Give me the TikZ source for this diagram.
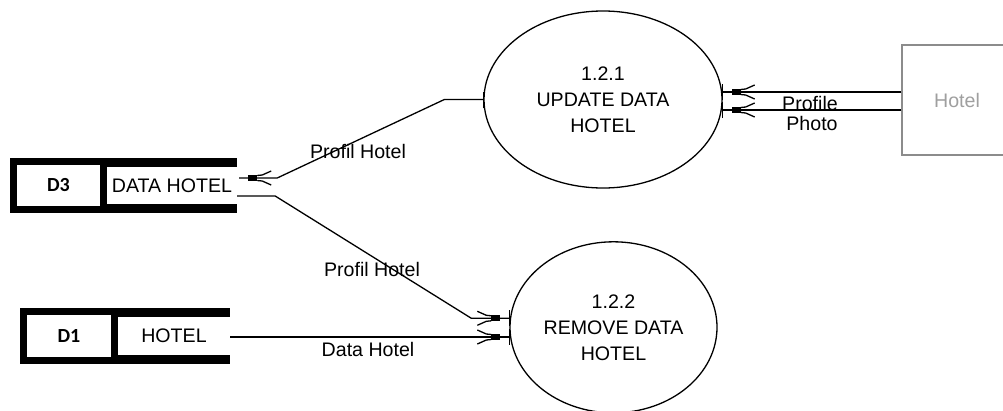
\documentclass[tikz,border=0pt]{standalone}
\usepackage{fontspec}
\setmainfont{Liberation Sans}
\newfontfamily\dfont{Carlito}
\usetikzlibrary{shapes.geometric,decorations.markings,calc}
\tikzset{
  proc/.style={ellipse, draw, line width=1.3pt, inner sep=0pt, align=center, font=\fontsize{19.6}{26}\selectfont},
  dbox/.style={rectangle, draw, line width=7pt, inner sep=0pt, font=\dfont\bfseries\fontsize{20}{22}\selectfont},
  store/.style={rectangle, inner sep=0pt, font=\fontsize{19.6}{22}\selectfont},
  lbl/.style={inner sep=0pt, font=\fontsize{19.6}{22}\selectfont},
  ent/.style={rectangle, draw=gray!90, line width=1.3pt, text=gray!75, inner sep=0pt, font=\fontsize{19.6}{22}\selectfont},
  flow/.style={line width=1.3pt},
  tipend/.style={postaction={decorate, decoration={markings, mark=at position 0.9999 with {
     \fill (-18,-3) rectangle (-9,3);
     \draw[line width=1.3pt] (-18,2.5) -- (-23,3) -- (-32,7) (-18,-2.5) -- (-23,-3) -- (-32,-7);}}}},
  barend/.style={postaction={decorate, decoration={markings, mark=at position 0.9999 with {\draw[line width=1.3pt] (0,-8) -- (0,8);}}}},
  barstart/.style={postaction={decorate, decoration={markings, mark=at position 0 with {\draw[line width=1.3pt] (0,-8) -- (0,8);}}}},
}
\begin{document}
\begin{tikzpicture}[x=1pt,y=-1pt]
\useasboundingbox (0,0) rectangle (1003,410);
% processes
\node[proc, minimum width=238pt, minimum height=177pt] (e1) at (603,99.5) {1.2.1\\UPDATE DATA\\HOTEL};
\node[proc, minimum width=207pt, minimum height=171pt] (e2) at (613.5,327.3) {1.2.2\\REMOVE DATA\\HOTEL};
% data store D3
\node[dbox, minimum width=90pt, minimum height=48pt] (d3) at (58.5,185.5) {D3};
\node[store, minimum width=130pt, minimum height=55pt] (s3) at (172,185.5) {DATA HOTEL};
\fill (s3.north west) rectangle ([yshift=-9pt]s3.north east);
\fill (s3.south west) rectangle ([yshift=9pt]s3.south east);
% data store D1
\node[dbox, minimum width=91pt, minimum height=49pt] (d1) at (69,336) {D1};
\node[store, minimum width=112pt, minimum height=56pt] (s1) at (174,336) {HOTEL};
\fill (s1.north west) rectangle ([yshift=-9pt]s1.north east);
\fill (s1.south west) rectangle ([yshift=9pt]s1.south east);
% external entity
\node[ent, minimum width=110pt, minimum height=110pt] (h) at (957,100) {Hotel};
% labels
\node[lbl] (l1) at (358,151) {Profil Hotel};
\node[lbl] (l2) at (372,269) {Profil Hotel};
\node[lbl] (l3) at (368,349) {Data Hotel};
\node[lbl] (l4) at (810,103) {Profile};
\node[lbl] (l5) at (812,123) {Photo};
% flows
\draw[flow, barstart, tipend] (e1.west) -- ++(-39,0) -- ([xshift=40pt,yshift=7.5pt]s3.east) -- ([xshift=2pt,yshift=7.5pt]s3.east);
\draw[flow, tipend, barend] ([yshift=-10.5pt]s3.east) -- ++(38,0) -- ([xshift=-38pt,yshift=9pt]e2.west) -- ([yshift=9pt]e2.west);
\draw[flow, tipend, barend] ([yshift=-1pt]s1.east) -- ([yshift=-1pt]s1.east -| e2.west);
\draw[flow, tipend, barend] ([yshift=8pt]h.west) -- ([yshift=8pt]h.west -| e1.east);
\draw[flow, tipend, barend] ([yshift=-10pt]h.west) -- ([yshift=-10pt]h.west -| e1.east);
\end{tikzpicture}
\end{document}
